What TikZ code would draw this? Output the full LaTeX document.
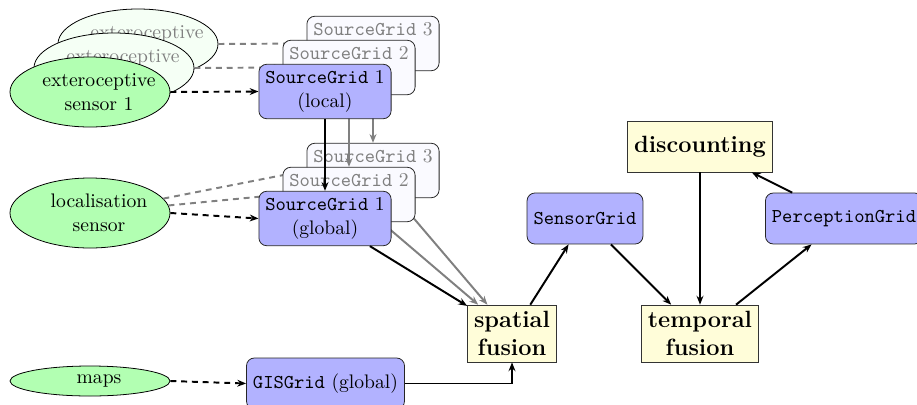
\documentclass[tikz,border=0pt]{standalone}
\usetikzlibrary{arrows.meta,shapes.geometric}
\begin{document}
\begin{tikzpicture}[x=0.51pt,y=-0.51pt,
  grid/.style={draw=black!85,fill=blue!30,rounded corners=4pt,align=center,minimum height=26pt,inner sep=3.3pt,text=black},
  ghostgrid/.style={grid,fill=blue!2,text=black!50},
  proc/.style={draw=black!80,fill=yellow!15,align=center,minimum height=26pt,inner sep=3.3pt,font=\large\bfseries},
  sens/.style={draw=black,ellipse,fill=green!30,minimum width=81.6pt,minimum height=35.7pt,inner sep=0pt},
  ghostsens/.style={sens,fill=green!4},
  lbl/.style={align=center,inner sep=0pt},
  conn/.style={line width=1pt,-{Stealth[length=4.5pt,width=3.5pt]}},
  gconn/.style={conn,draw=black!50},
  dconn/.style={line width=1pt,dash pattern=on 3pt off 2.5pt,-{Stealth[length=4.5pt,width=3.5pt]}},
  gdconn/.style={dconn,draw=black!50}
]
\useasboundingbox (0,0) rectangle (917,404);

% sensors
\node[ghostsens] (s3) at (138,44) {};
\node[lbl,text=black!50] (s3t) at (147,44) {exteroceptive\\sensor 3};
\node[ghostsens] (s2) at (114,68) {};
\node[lbl,text=black!50] (s2t) at (123,68) {exteroceptive\\sensor 2};
\node[sens] (s1) at (90,92) {};
\node[lbl] (s1t) at (99,92) {exteroceptive\\sensor 1};

\node[sens] (loc) at (90,213) {};
\node[lbl] (loct) at (99,213) {localisation\\sensor};

\node[sens,minimum height=15.3pt] (maps) at (90,381) {};
\node[lbl] (mapst) at (99,381) {maps};

% layer 3
\node[ghostgrid] (l3) at (373,43.5) {\texttt{SourceGrid}~3\\(local)};
\node[ghostgrid] (g3) at (373,170.5) {\texttt{SourceGrid}~3\\(global)};
\coordinate (s3e) at (s3.east);
\draw[gdconn] (s3e) -- (l3.west);
\draw[gdconn] (loc) -- (g3.west);
\draw[gconn] (l3) -- (g3);
\node[proc] (sf) at (512,333.5) {spatial\\fusion};
\draw[gconn] (g3) -- (sf);

% layer 2
\node[ghostgrid] (l2) at (349,67.5) {\texttt{SourceGrid}~2\\(local)};
\node[ghostgrid] (g2) at (349,194.5) {\texttt{SourceGrid}~2\\(global)};
\coordinate (s2e) at (s2.east);
\draw[gdconn] (s2e) -- (l2.west);
\draw[gdconn] (loc) -- (g2.west);
\draw[gconn] (l2) -- (g2);
\draw[gconn] (g2) -- (sf);

% layer 1
\node[grid] (l1) at (325,91.5) {\texttt{SourceGrid}~1\\(local)};
\node[grid] (g1) at (325,218.5) {\texttt{SourceGrid}~1\\(global)};
\coordinate (s1e) at (s1.east);
\draw[dconn] (s1e) -- (l1.west);
\draw[dconn] (loc.east) -- (g1.west);
\draw[conn] (l1) -- (g1);
\draw[conn] (g1) -- (sf);

% GIS
\node[grid] (gis) at (325.5,383.5) {\texttt{GISGrid} (global)};
\draw[dconn] (maps.east) -- (gis.west);
\draw[conn] (gis.east) -| (sf.south);

% right part
\node[grid] (sg) at (585,218.5) {\texttt{SensorGrid}};
\node[proc] (tf) at (700,333.5) {temporal\\fusion};
\node[proc] (disc) at (700,146.5) {discounting};
\node[grid] (pg) at (844,218.5) {\texttt{PerceptionGrid}};

\draw[conn] (sf) -- (sg);
\draw[conn] (sg) -- (tf);
\draw[conn] (disc) -- (tf);
\draw[conn] (tf) -- (pg);
\draw[conn] (pg) -- (disc);
\end{tikzpicture}
\end{document}
